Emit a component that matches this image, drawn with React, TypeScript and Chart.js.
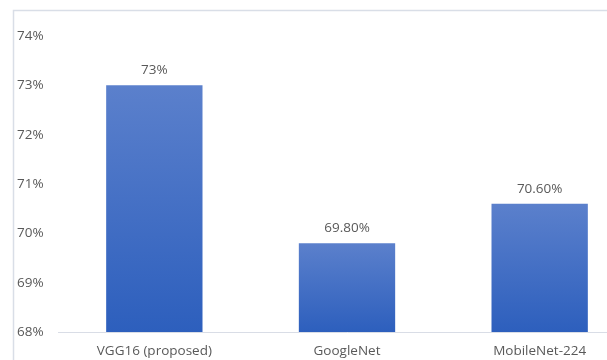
import React, { useEffect, useRef } from "react";
import { Chart, registerables } from "chart.js";

Chart.register(...registerables);

const categories = ["VGG16 (proposed)", "GoogleNet", "MobileNet-224"];
const accuracy = [73, 69.8, 70.6];
const valueLabels = ["73%", "69.80%", "70.60%"];
const yMin = 68;
const yMax = 74;
const yStep = 1;

const FONT = "'Open Sans', sans-serif";
const TEXT = "#595959";
const SIZE = 13.5;

const framePlugin = {
  id: "frame",
  beforeDraw(chart: any) {
    const ctx = chart.ctx;
    ctx.save();
    ctx.strokeStyle = "#d9dee7";
    ctx.lineWidth = 1.5;
    ctx.beginPath();
    ctx.moveTo(13.5, chart.height);
    ctx.lineTo(13.5, 10.5);
    ctx.lineTo(chart.width, 10.5);
    ctx.stroke();
    ctx.restore();
  },
};

const labelPlugin = {
  id: "valueLabels",
  afterDatasetsDraw(chart: any) {
    const ctx = chart.ctx;
    const meta = chart.getDatasetMeta(0);
    ctx.save();
    ctx.font = `${SIZE}px ${FONT}`;
    ctx.fillStyle = TEXT;
    ctx.textAlign = "center";
    ctx.textBaseline = "alphabetic";
    meta.data.forEach((bar: any, i: number) => {
      ctx.fillText(valueLabels[i], bar.x, bar.y - 11);
    });
    ctx.restore();
  },
};

export default function App() {
  const ref = useRef<HTMLCanvasElement | null>(null);
  useEffect(() => {
    document.body.style.margin = "0";
    const canvas = ref.current!;
    const chart = new Chart(canvas, {
      type: "bar",
      data: {
        labels: categories,
        datasets: [
          {
            data: accuracy,
            backgroundColor: (c: any) => {
              const ch = c.chart;
              const ys = ch.scales && ch.scales.y;
              if (!ys || !ch.chartArea || c.dataIndex === undefined) return "#4470c4";
              const top = ys.getPixelForValue(accuracy[c.dataIndex]);
              const bottom = ys.getPixelForValue(yMin);
              if (!isFinite(top) || !isFinite(bottom) || top === bottom) return "#4470c4";
              const g = ch.ctx.createLinearGradient(0, top, 0, bottom);
              g.addColorStop(0, "#5b80cc");
              g.addColorStop(1, "#2d5fbd");
              return g;
            },
            borderWidth: 0,
            categoryPercentage: 1,
            barPercentage: 0.5,
          },
        ],
      },
      options: {
        responsive: false,
        animation: false,
        layout: { padding: { left: 17, right: 14, top: 36, bottom: 0 } },
        plugins: { legend: { display: false }, tooltip: { enabled: false } },
        scales: {
          x: {
            grid: { display: false },
            border: { display: true, color: "#d9dde6", width: 1 },
            ticks: { color: TEXT, font: { family: FONT, size: SIZE }, padding: 3 },
            afterFit: (s: any) => {
              s.height = 28;
            },
          },
          y: {
            min: yMin,
            max: yMax,
            grid: { display: false },
            border: { display: false },
            ticks: {
              stepSize: yStep,
              crossAlign: "far",
              color: TEXT,
              font: { family: FONT, size: SIZE },
              callback: (v: any) => `${v}%`,
            },
            afterFit: (s: any) => {
              s.width = 41;
            },
          },
        },
      } as any,
      plugins: [framePlugin, labelPlugin],
    });
    return () => chart.destroy();
  }, []);
  return (
    <div style={{ position: "absolute", left: 0, top: 0, width: 607, height: 360, overflow: "hidden", background: "#fff" }}>
      <canvas ref={ref} width={650} height={360} style={{ display: "block" }} />
    </div>
  );
}
